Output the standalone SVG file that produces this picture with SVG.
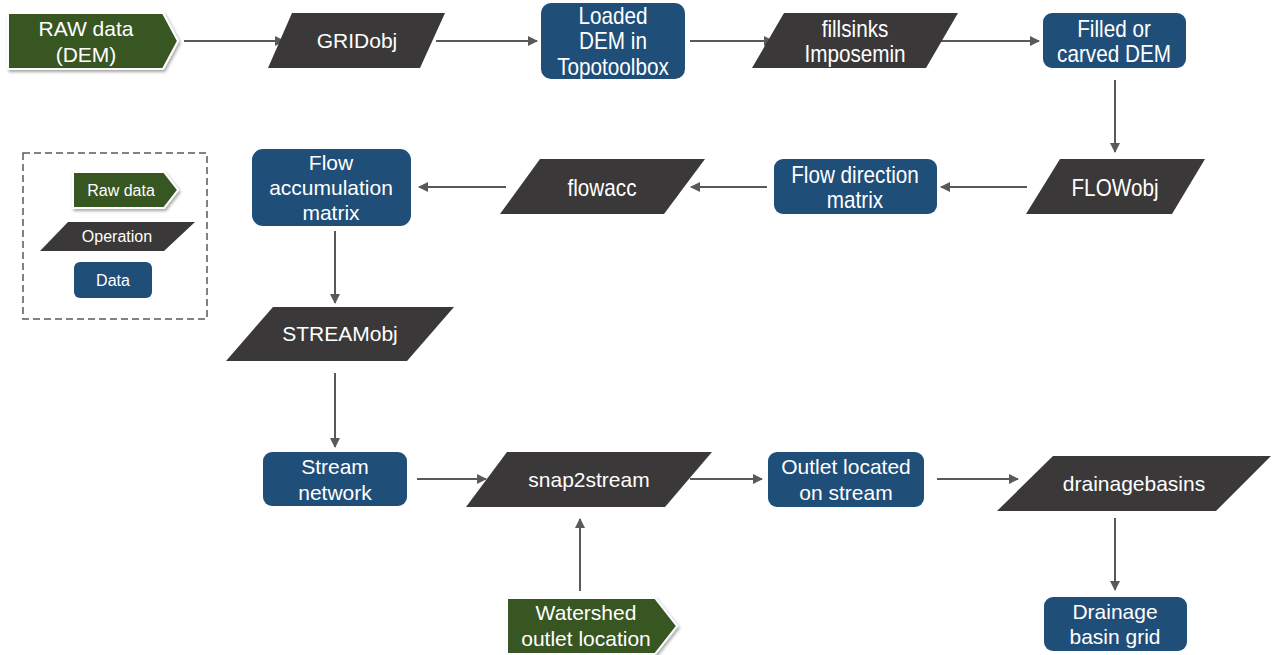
<svg xmlns="http://www.w3.org/2000/svg" width="1274" height="655" viewBox="0 0 1274 655">
<defs>
<style>
.raw{fill:#385723;stroke:#ffffff;stroke-width:2;filter:url(#sh)}
.op{fill:#3a3838}
.data{fill:#1f4e79}
.t{fill:#ffffff;font-family:"Liberation Sans",Arial,sans-serif;font-size:21px;text-anchor:middle}
.n{fill:#ffffff;font-family:"Liberation Sans",Arial,sans-serif;font-size:23px;text-anchor:middle}
.tl{fill:#ffffff;font-family:"Liberation Sans",Arial,sans-serif;font-size:16px;text-anchor:middle}
.c{stroke:#595959;stroke-width:2;fill:none;marker-end:url(#ah)}
</style>
<marker id="ah" viewBox="0 0 10 10" refX="9" refY="5" markerWidth="5" markerHeight="5" orient="auto" markerUnits="strokeWidth">
<path d="M0,0 L10,5 L0,10 z" fill="#595959"/>
</marker>
<filter id="sh" x="-10%" y="-20%" width="130%" height="150%">
<feDropShadow dx="1.5" dy="2" stdDeviation="1.5" flood-color="#000000" flood-opacity="0.35"/>
</filter>
</defs>
<rect width="1274" height="655" fill="#ffffff"/>

<g id="connectors">
<line class="c" x1="184" y1="41" x2="284" y2="41"/>
<line class="c" x1="436" y1="41" x2="537" y2="41"/>
<line class="c" x1="690" y1="41" x2="773" y2="41"/>
<line class="c" x1="938" y1="41" x2="1039" y2="41"/>
<line class="c" x1="1115" y1="80" x2="1115" y2="152"/>
<line class="c" x1="1027" y1="187" x2="941" y2="187"/>
<line class="c" x1="767" y1="187" x2="691" y2="187"/>
<line class="c" x1="506" y1="187" x2="419" y2="187"/>
<line class="c" x1="335" y1="231" x2="335" y2="303"/>
<line class="c" x1="335" y1="373" x2="335" y2="447"/>
<line class="c" x1="417" y1="479" x2="486" y2="479"/>
<line class="c" x1="690" y1="479" x2="762" y2="479"/>
<line class="c" x1="937" y1="479" x2="1018" y2="479"/>
<line class="c" x1="1115" y1="518" x2="1115" y2="590"/>
<line class="c" x1="580" y1="591" x2="580" y2="519"/>
</g>

<g id="legend">
<rect x="23" y="153" width="184" height="166" fill="none" stroke="#595959" stroke-width="1.5" stroke-dasharray="7,4"/>
<polygon class="raw" points="73,172 164,172 178,190 164,208 73,208"/>
<text class="tl" x="121" y="196">Raw data</text>
<polygon class="op" points="68,222 195,222 164,251 40,251"/>
<text class="tl" x="117" y="242">Operation</text>
<rect class="data" x="74" y="262" width="78" height="36" rx="6"/>
<text class="tl" x="113" y="286">Data</text>
</g>

<g id="raw-dem">
<polygon class="raw" points="8,13 163,13 178,41 163,69 8,69"/>
<text class="t" x="86" y="36">RAW data</text>
<text class="t" x="86" y="62">(DEM)</text>
</g>

<g id="gridobj">
<polygon class="op" points="292,13 445,13 420,68 268,68"/>
<text class="t" x="357" y="48">GRIDobj</text>
</g>

<g id="loaded-dem">
<rect class="data" x="541" y="3" width="144" height="76" rx="10"/>
<g transform="translate(613,0) scale(0.9,1)">
<text class="n" x="0" y="24">Loaded</text>
<text class="n" x="0" y="49">DEM in</text>
<text class="n" x="0" y="75">Topotoolbox</text>
</g>
</g>

<g id="fillsinks">
<polygon class="op" points="784,13 958,13 926,68 752,68"/>
<g transform="translate(855,0) scale(0.9,1)">
<text class="n" x="0" y="37">fillsinks</text>
<text class="n" x="0" y="62">Imposemin</text>
</g>
</g>

<g id="filled-dem">
<rect class="data" x="1043" y="13" width="143" height="55" rx="9"/>
<g transform="translate(1114,0) scale(0.9,1)">
<text class="n" x="0" y="37">Filled or</text>
<text class="n" x="0" y="62">carved DEM</text>
</g>
</g>

<g id="flowobj">
<polygon class="op" points="1060,159 1205,159 1172,214 1026,214"/>
<g transform="translate(1115,0) scale(0.9,1)">
<text class="n" x="0" y="196">FLOWobj</text>
</g>
</g>

<g id="flow-direction">
<rect class="data" x="774" y="159" width="163" height="55" rx="9"/>
<g transform="translate(855,0) scale(0.9,1)">
<text class="n" x="0" y="183">Flow direction</text>
<text class="n" x="0" y="208">matrix</text>
</g>
</g>

<g id="flowacc">
<polygon class="op" points="540,159 705,159 664,214 500,214"/>
<g transform="translate(602,0) scale(0.9,1)">
<text class="n" x="0" y="196">flowacc</text>
</g>
</g>

<g id="flow-accumulation">
<rect class="data" x="252" y="149" width="159" height="77" rx="11"/>
<text class="t" x="331" y="170">Flow</text>
<text class="t" x="331" y="195">accumulation</text>
<text class="t" x="331" y="220">matrix</text>
</g>

<g id="streamobj">
<polygon class="op" points="273,307 454,307 407,361 226,361"/>
<text class="t" x="340" y="341">STREAMobj</text>
</g>

<g id="stream-network">
<rect class="data" x="263" y="452" width="144" height="54" rx="9"/>
<text class="t" x="335" y="474">Stream</text>
<text class="t" x="335" y="500">network</text>
</g>

<g id="snap2stream">
<polygon class="op" points="507,452 712,452 665,507 466,507"/>
<text class="t" x="589" y="487">snap2stream</text>
</g>

<g id="outlet-on-stream">
<rect class="data" x="768" y="452" width="156" height="55" rx="9"/>
<text class="t" x="846" y="474">Outlet located</text>
<text class="t" x="846" y="500">on stream</text>
</g>

<g id="drainagebasins">
<polygon class="op" points="1053,456 1271,456 1216,511 997,511"/>
<text class="t" x="1134" y="491">drainagebasins</text>
</g>

<g id="drainage-basin-grid">
<rect class="data" x="1044" y="597" width="143" height="54" rx="9"/>
<text class="t" x="1115" y="619">Drainage</text>
<text class="t" x="1115" y="644">basin grid</text>
</g>

<g id="watershed-outlet">
<polygon class="raw" points="507,598 655,598 677,626 655,654 507,654"/>
<text class="t" x="586" y="620">Watershed</text>
<text class="t" x="586" y="646">outlet location</text>
</g>
</svg>
